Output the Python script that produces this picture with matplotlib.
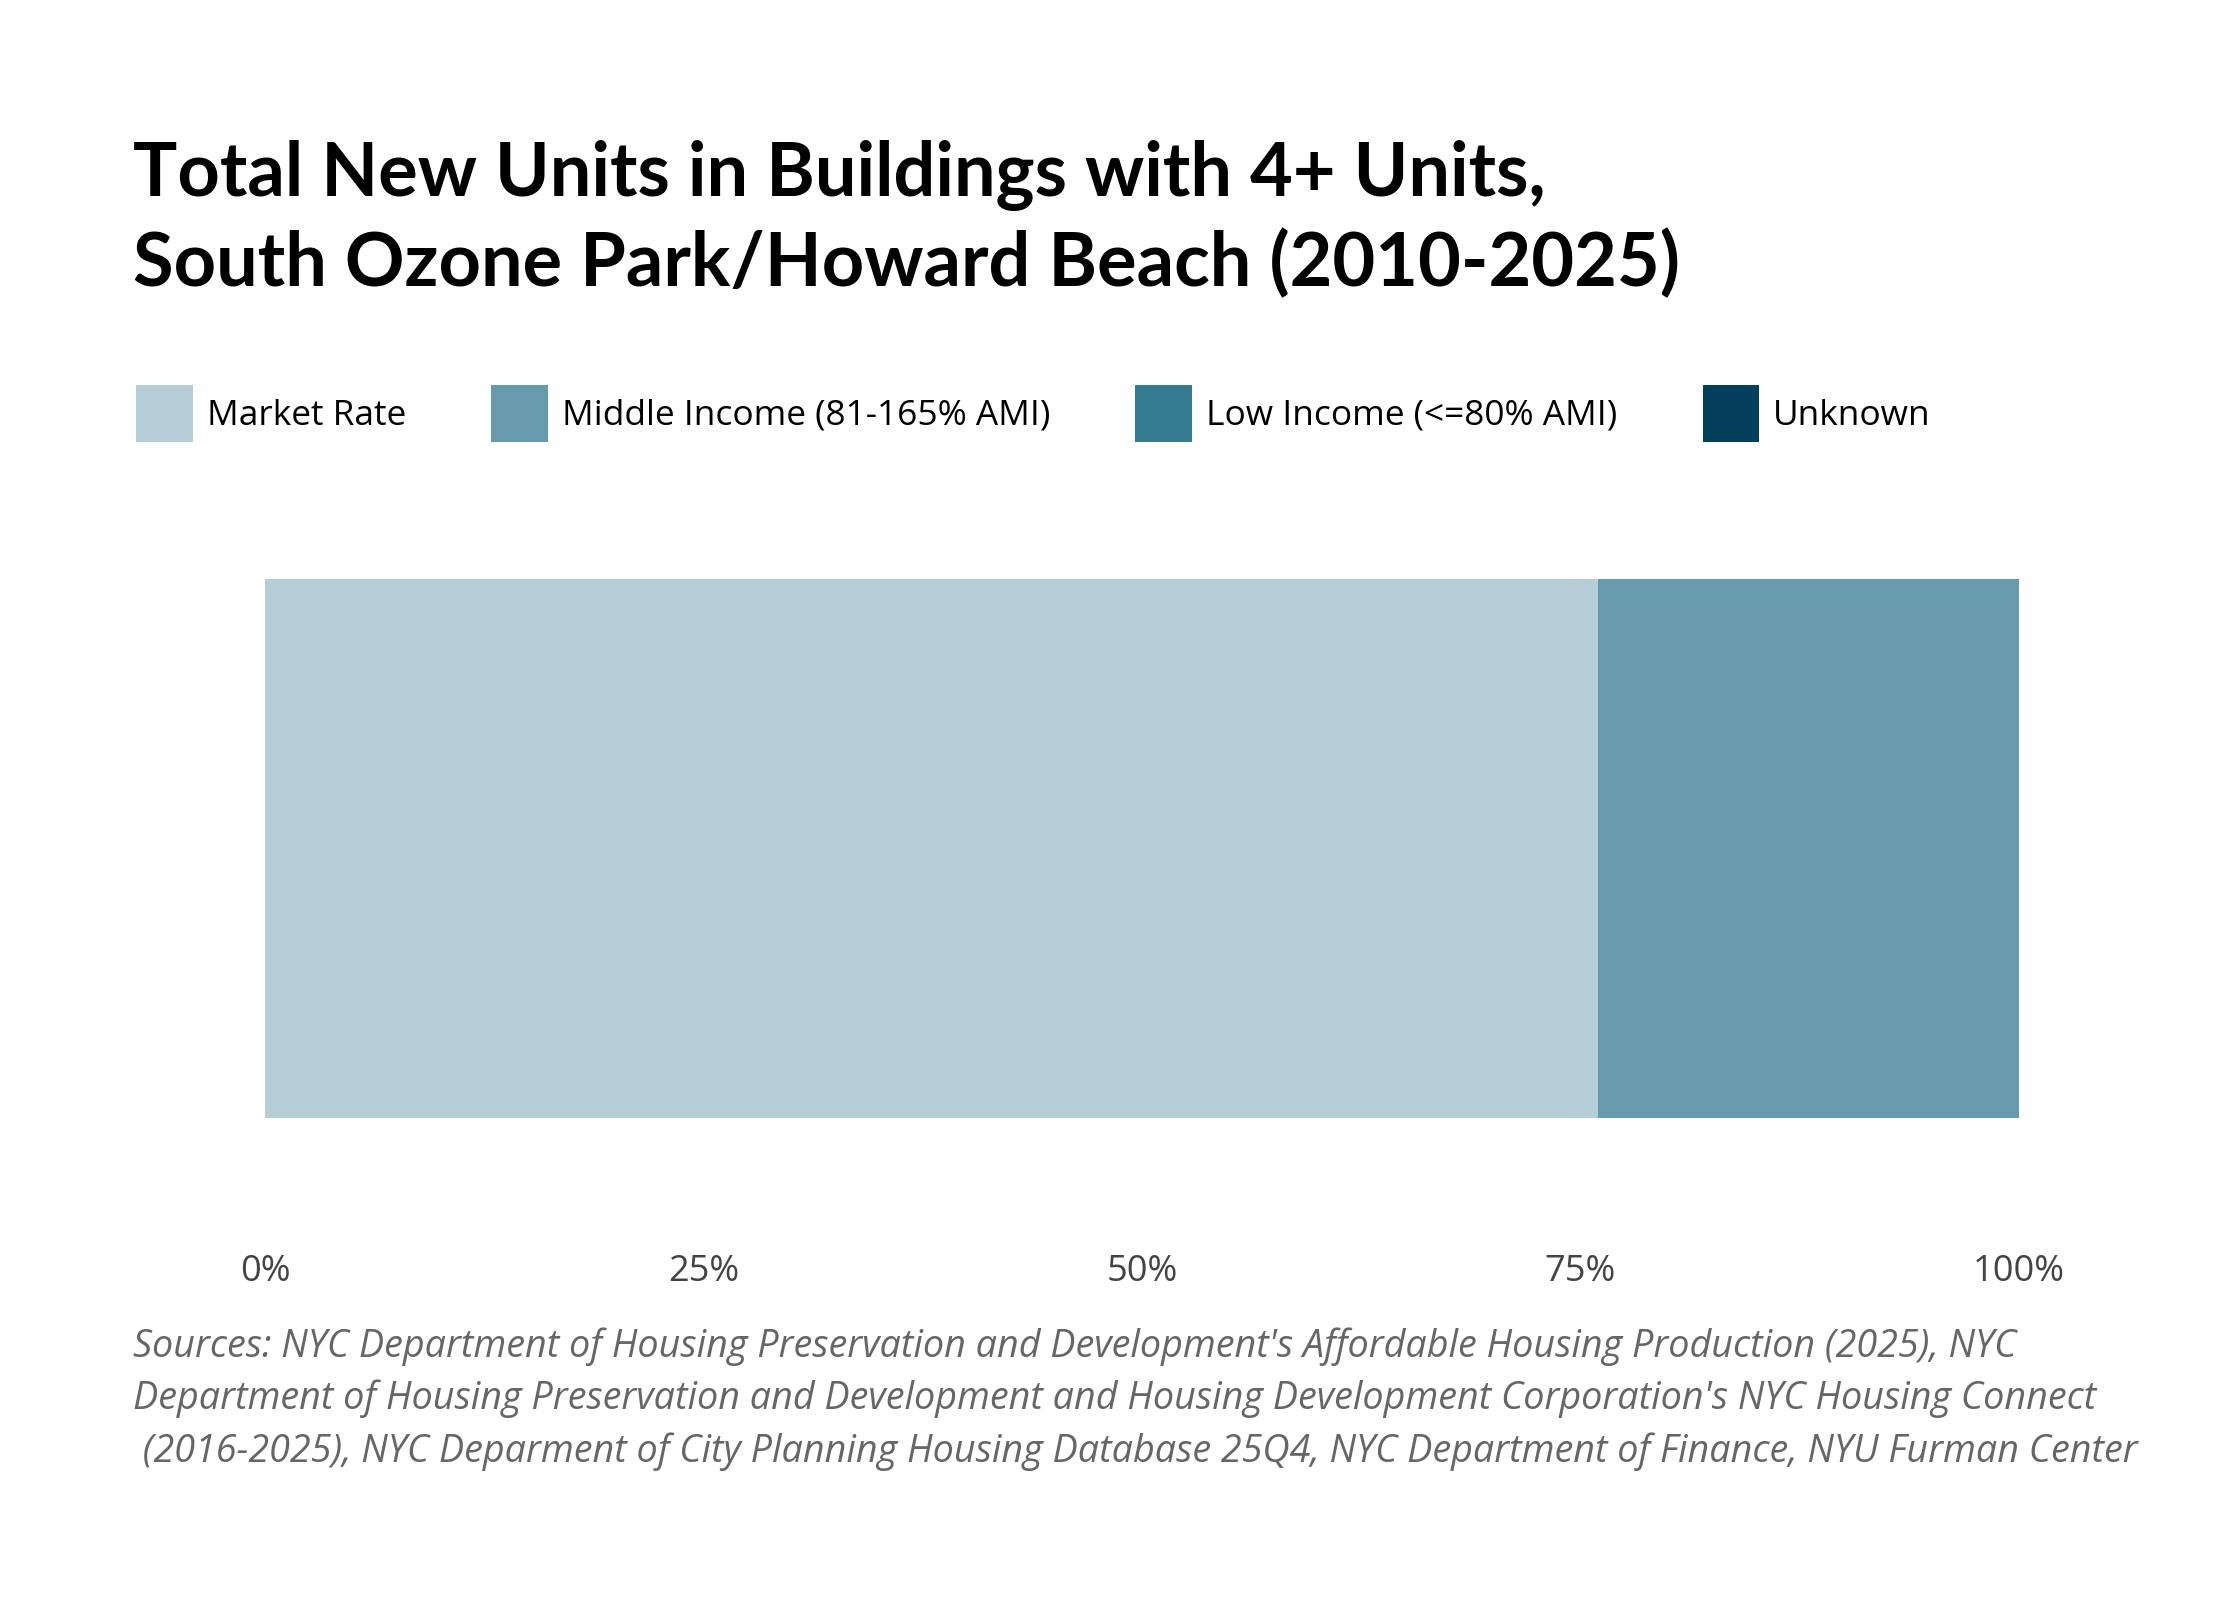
import matplotlib
matplotlib.use("Agg")
import matplotlib.pyplot as plt
from matplotlib.ticker import FuncFormatter

# data
categories = ["Market Rate", "Middle Income (81-165% AMI)", "Low Income (<=80% AMI)", "Unknown"]
shares = [0.760, 0.240, 0.0, 0.0]
colors = ["#b4cdd6", "#669bab", "#357b91", "#023f5a"]
tick_values = [0, 0.25, 0.5, 0.75, 1.0]

title = "Total New Units in Buildings with 4+ Units,\nSouth Ozone Park/Howard Beach (2010-2025)"
sources = ("Sources: NYC Department of Housing Preservation and Development's Affordable Housing Production (2025), NYC\n"
           "Department of Housing Preservation and Development and Housing Development Corporation's NYC Housing Connect\n"
           " (2016-2025), NYC Deparment of City Planning Housing Database 25Q4, NYC Department of Finance, NYU Furman Center")

fig = plt.figure(figsize=(11.2, 8), dpi=200)
fig.patch.set_facecolor("white")

ax = fig.add_axes([265 / 2240, 1 - 1118 / 1600, (2019 - 265) / 2240, (1118 - 579) / 1600])

left = 0
bars = []
for cat, val, col in zip(categories, shares, colors):
    b = ax.barh([0], [val], left=left, height=1.0, color=col, label=cat, linewidth=0)
    bars.append(b)
    left += val

ax.set_xlim(0, 1)
ax.set_ylim(-0.5, 0.5)
ax.set_yticks([])
ax.set_xticks(tick_values)
ax.xaxis.set_major_formatter(FuncFormatter(lambda v, p: "{:.0f}%".format(v * 100)))
ax.tick_params(axis="x", length=0, pad=49, labelsize=13, labelcolor="#444444")
for lab in ax.get_xticklabels():
    lab.set_fontfamily("Open Sans")
for s in ax.spines.values():
    s.set_visible(False)

# title: baseline of the second line
fig.text(133 / 2240, 1 - 286 / 1600, title, fontsize=26.6, fontweight="bold", family="Lato",
         color="black", ha="left", va="baseline", linespacing=1.3)

fig.legend(handles=bars, labels=categories, loc="upper left",
           bbox_to_anchor=(136 / 2240, 1 - 385 / 1600), ncol=4, frameon=False,
           prop={"family": "Open Sans", "size": 12.7}, borderpad=0, borderaxespad=0,
           handlelength=1.61, handleheight=2.12, handletextpad=0.39, columnspacing=2.42)

# sources: baseline of the last line
fig.text(133 / 2240, 1 - 1462 / 1600, sources, fontsize=13.6, style="italic",
         family="Open Sans", color="#666666", ha="left", va="baseline", linespacing=1.47)

fig.savefig("out.png", dpi=200, facecolor="white")
